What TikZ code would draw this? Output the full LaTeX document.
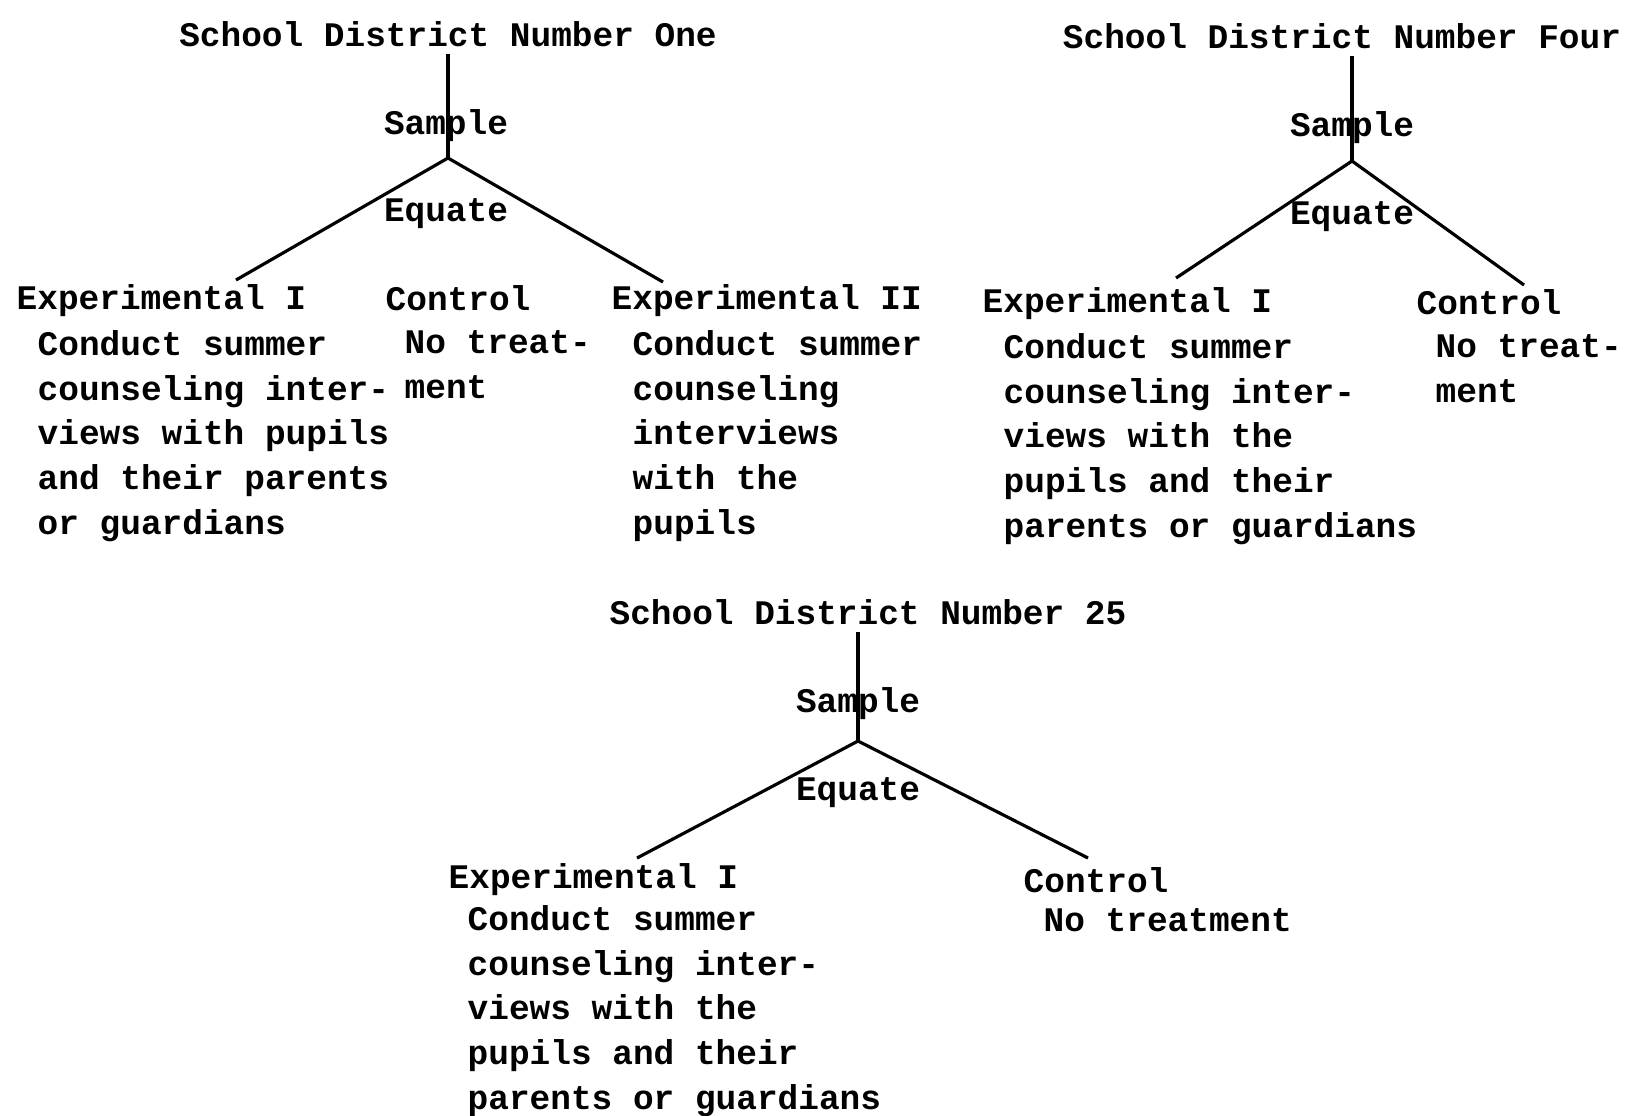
\documentclass[tikz,border=0pt]{standalone}
\usepackage{fontspec}
\setmainfont{Liberation Mono}

\begin{document}
\begin{tikzpicture}[x=0.1mm, y=-0.1mm,
	txt/.style = {inner sep=0, font=\fontsize{9.8}{12.7}\selectfont\bfseries},
	body/.style = {txt, anchor=north west, align=left},
	branch/.style = {line width=0.9pt}]

	\useasboundingbox (0,0) rectangle (1625,1115);

	% district one
	\node[txt] (t1) at (448,34) {School District Number One};
	\node[txt] (s1) at (446,126) {Sample};
	\coordinate (a1) at (448,158);
	\node[txt] (q1) at (446,214) {Equate};
	\coordinate (l1) at (236,280);
	\coordinate (r1) at (663,282);
	\draw[branch, shorten <=2pt] (t1.south) -- (a1);
	\draw[branch] (a1) -- (l1);
	\draw[branch] (a1) -- (r1);

	\node[txt, anchor=west] (e1) at (16,301) {Experimental I};
	\node[txt, anchor=west] (c1) at (385,298) {Control};
	\node[txt, anchor=west] (f1) at (611,301) {Experimental II};
	\node[body] (b1) at (37,330) {Conduct summer\\counseling inter-\\views with pupils\\and their parents\\or guardians};
	\node[body] (d1) at (404,330) {No treat-\\ment};
	\node[body] (g1) at (632,330) {Conduct summer\\counseling\\interviews\\with the\\pupils};

	% district four
	\node[txt] (t2) at (1342,36) {School District Number Four};
	\node[txt] (s2) at (1352,128) {Sample};
	\coordinate (a2) at (1352,161);
	\node[txt] (q2) at (1352,217) {Equate};
	\coordinate (l2) at (1176,278);
	\coordinate (r2) at (1524,285);
	\draw[branch, shorten <=2pt] (t2.south -| a2) -- (a2);
	\draw[branch] (a2) -- (l2);
	\draw[branch] (a2) -- (r2);

	\node[txt, anchor=west] (e2) at (982,304) {Experimental I};
	\node[txt, anchor=west] (c2) at (1416,302) {Control};
	\node[body] (b2) at (1003,333) {Conduct summer\\counseling inter-\\views with the\\pupils and their\\parents or guardians};
	\node[body] (d2) at (1435,334) {No treat-\\ment};

	% district 25
	\node[txt] (t3) at (868,612) {School District Number 25};
	\node[txt] (s3) at (858,704) {Sample};
	\coordinate (a3) at (858,741);
	\node[txt] (q3) at (858,793) {Equate};
	\coordinate (l3) at (637,858);
	\coordinate (r3) at (1088,858);
	\draw[branch, shorten <=2pt] (t3.south -| a3) -- (a3);
	\draw[branch] (a3) -- (l3);
	\draw[branch] (a3) -- (r3);

	\node[txt, anchor=west] (e3) at (448,880) {Experimental I};
	\node[txt, anchor=west] (c3) at (1023,880) {Control};
	\node[body] (b3) at (467,905) {Conduct summer\\counseling inter-\\views with the\\pupils and their\\parents or guardians};
	\node[body] (d3) at (1043,908) {No treatment};

\end{tikzpicture}
\end{document}
